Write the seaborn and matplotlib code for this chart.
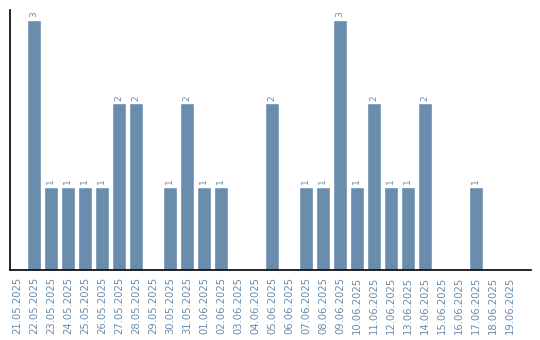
import matplotlib
matplotlib.use("Agg")
import matplotlib.pyplot as plt
import seaborn as sns
import pandas as pd

dates = ["21.05.2025", "22.05.2025", "23.05.2025", "24.05.2025", "25.05.2025",
         "26.05.2025", "27.05.2025", "28.05.2025", "29.05.2025", "30.05.2025",
         "31.05.2025", "01.06.2025", "02.06.2025", "03.06.2025", "04.06.2025",
         "05.06.2025", "06.06.2025", "07.06.2025", "08.06.2025", "09.06.2025",
         "10.06.2025", "11.06.2025", "12.06.2025", "13.06.2025", "14.06.2025",
         "15.06.2025", "16.06.2025", "17.06.2025", "18.06.2025", "19.06.2025"]
counts = [0, 3, 1, 1, 1, 1, 2, 2, 0, 1,
          2, 1, 1, 0, 0, 2, 0, 1, 1, 3,
          1, 2, 1, 1, 2, 0, 0, 1, 0, 0]

df = pd.DataFrame({"date": dates, "count": counts})
color = "#6a8cad"

sns.set_style("white")
fig = plt.figure(figsize=(5.4, 3.4), dpi=100)
ax = fig.add_axes([0.0194, 0.206, 0.9639, 0.7646])
sns.barplot(data=df, x="date", y="count", color=color, saturation=1,
            width=0.82, ax=ax, order=dates)

for i, v in enumerate(counts):
    if v > 0:
        ax.text(i, v + 0.03, str(v), rotation=90, ha="center", va="bottom",
                fontsize=6.5, color=color)

ax.set_xlim(-0.38, 30.24)
ax.set_ylim(0, 3.12)
ax.set_xlabel("")
ax.set_ylabel("")
ax.set_yticks([])
ax.tick_params(axis="x", length=0, pad=5, labelsize=7.2, labelcolor=color)
plt.setp(ax.get_xticklabels(), rotation=90, va="top", ha="center")
for s in ["top", "right"]:
    ax.spines[s].set_visible(False)
for s in ["left", "bottom"]:
    ax.spines[s].set_color("black")
    ax.spines[s].set_linewidth(1.2)

fig.savefig("out.png", dpi=100)
